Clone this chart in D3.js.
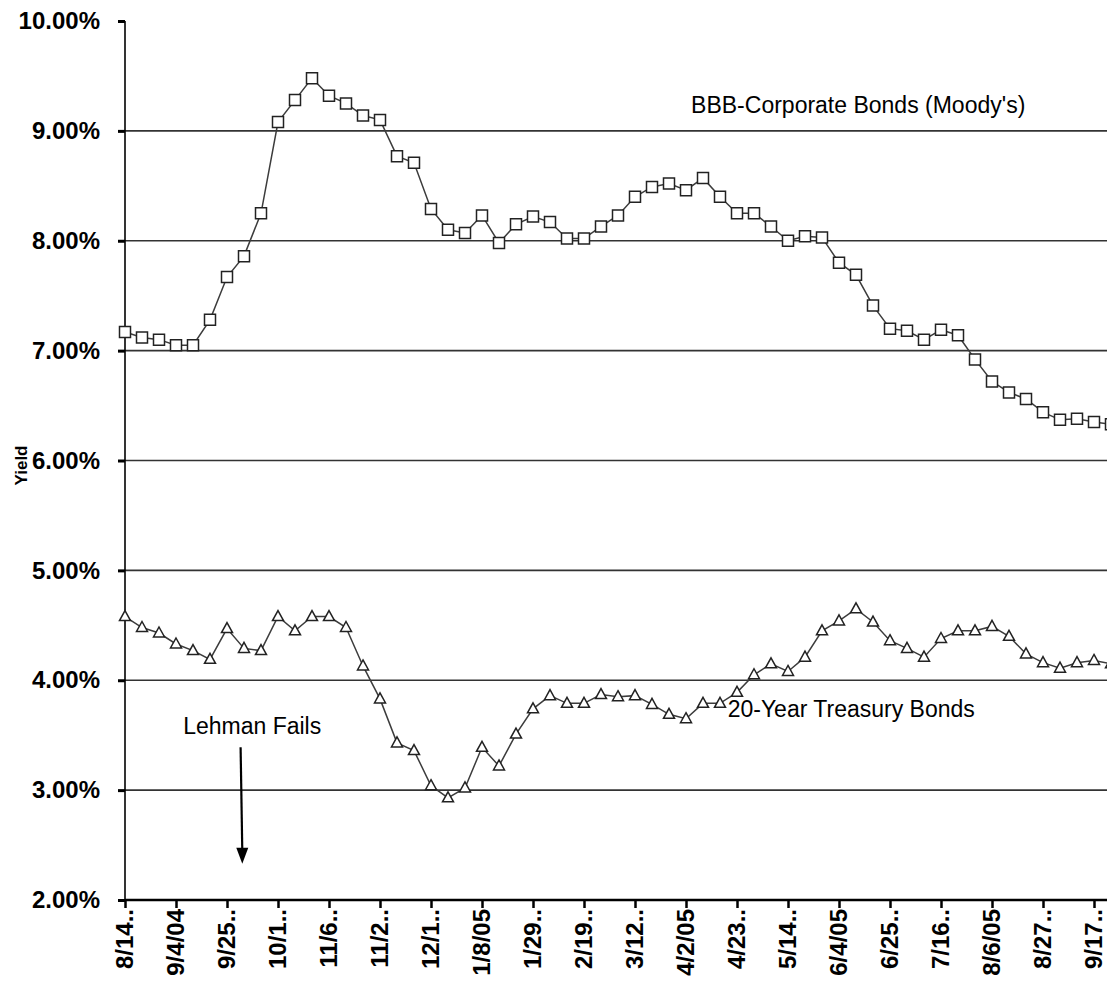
<!DOCTYPE html>
<html>
<head>
<meta charset="utf-8">
<script src="https://cdn.jsdelivr.net/npm/d3@7"></script>
<style>
  html, body { margin: 0; padding: 0; background: #fff; }
  svg { display: block; font-family: "Liberation Sans", Arial, sans-serif; }
</style>
</head>
<body>
<svg id="chart" width="1107" height="995"></svg>
<script>
// Weekly observation dates (Saturdays)
const weeks = [
  "8/14/04","8/21/04","8/28/04","9/4/04","9/11/04","9/18/04","9/25/04","10/2/04","10/9/04","10/16/04",
  "10/23/04","10/30/04","11/6/04","11/13/04","11/20/04","11/27/04","12/4/04","12/11/04","12/18/04","12/25/04",
  "1/1/05","1/8/05","1/15/05","1/22/05","1/29/05","2/5/05","2/12/05","2/19/05","2/26/05","3/5/05",
  "3/12/05","3/19/05","3/26/05","4/2/05","4/9/05","4/16/05","4/23/05","4/30/05","5/7/05","5/14/05",
  "5/21/05","5/28/05","6/4/05","6/11/05","6/18/05","6/25/05","7/2/05","7/9/05","7/16/05","7/23/05",
  "7/30/05","8/6/05","8/13/05","8/20/05","8/27/05","9/3/05","9/10/05","9/17/05","9/24/05"
];

// BBB corporate bond yields, Moody's (%)
const bbbYield = [
  7.17, 7.12, 7.10, 7.05, 7.05, 7.28, 7.67, 7.86, 8.25, 9.08,
  9.28, 9.48, 9.32, 9.25, 9.14, 9.10, 8.77, 8.71, 8.29, 8.10,
  8.07, 8.23, 7.98, 8.15, 8.22, 8.17, 8.02, 8.02, 8.13, 8.23,
  8.40, 8.49, 8.52, 8.46, 8.57, 8.40, 8.25, 8.25, 8.13, 8.00,
  8.04, 8.03, 7.80, 7.69, 7.41, 7.20, 7.18, 7.10, 7.19, 7.14,
  6.92, 6.72, 6.62, 6.56, 6.44, 6.37, 6.38, 6.35, 6.33
];

// 20-year Treasury bond yields (%)
const treasuryYield = [
  4.58, 4.48, 4.43, 4.33, 4.27, 4.19, 4.47, 4.29, 4.27, 4.58,
  4.45, 4.58, 4.58, 4.48, 4.13, 3.83, 3.43, 3.36, 3.04, 2.93,
  3.02, 3.39, 3.22, 3.51, 3.74, 3.86, 3.79, 3.79, 3.87, 3.85,
  3.86, 3.78, 3.69, 3.65, 3.79, 3.79, 3.89, 4.05, 4.15, 4.08,
  4.21, 4.45, 4.54, 4.65, 4.53, 4.36, 4.29, 4.21, 4.38, 4.45,
  4.45, 4.49, 4.40, 4.24, 4.16, 4.11, 4.16, 4.18, 4.15
];

// Category axis: a label every third week, shortened the way the axis shows them
const xTickIndex = [0, 3, 6, 9, 12, 15, 18, 21, 24, 27, 30, 33, 36, 39, 42, 45, 48, 51, 54, 57];
const xTickLabels = [
  "8/14..","9/4/04","9/25..","10/1..","11/6..","11/2..","12/1..","1/8/05","1/29..","2/19..",
  "3/12..","4/2/05","4/23..","5/14..","6/4/05","6/25..","7/16..","8/6/05","8/27..","9/17.."
];
const yTicks = [2, 3, 4, 5, 6, 7, 8, 9, 10];

const svg = d3.select("#chart");
const W = 1107, H = 995;
const plot = { left: 125, right: 1094, top: 21, bottom: 900 };

svg.append("rect").attr("width", W).attr("height", H).attr("fill", "#fff");

const x = d3.scaleLinear().domain([0, 57]).range([plot.left, plot.right]);
const y = d3.scaleLinear().domain([2, 10]).range([plot.bottom, plot.top]);

// Horizontal gridlines
svg.append("g").selectAll("line")
  .data(yTicks.filter(d => d > 2 && d < 10))
  .join("line")
  .attr("x1", plot.left).attr("x2", W)
  .attr("y1", d => y(d)).attr("y2", d => y(d))
  .attr("stroke", "#333").attr("stroke-width", 1.6);

// Y axis
const yAxis = d3.axisLeft(y)
  .tickValues(yTicks)
  .tickFormat(d => d3.format(".2f")(d) + "%")
  .tickSize(7)
  .tickPadding(18);
const gy = svg.append("g").attr("transform", `translate(${plot.left},0)`).call(yAxis);
gy.select(".domain").attr("stroke", "#000").attr("stroke-width", 1.6)
  .attr("d", `M0,${plot.top}V${plot.bottom}`);
gy.selectAll(".tick line").attr("stroke", "#000").attr("stroke-width", 3);
gy.selectAll(".tick text")
  .attr("font-family", "'Liberation Sans', Arial, sans-serif")
  .attr("font-size", 24).attr("font-weight", "bold").attr("fill", "#000");

// X axis (category positions every third week)
const xAxis = d3.axisBottom(x)
  .tickValues(xTickIndex)
  .tickFormat((d, i) => xTickLabels[i])
  .tickSize(8)
  .tickSizeOuter(0);
const gx = svg.append("g").attr("transform", `translate(0,${plot.bottom})`).call(xAxis);
gx.select(".domain").attr("stroke", "#000").attr("stroke-width", 2.5)
  .attr("d", `M${plot.left},0H${W}`);
gx.selectAll(".tick line").attr("stroke", "#000").attr("stroke-width", 2.5);
gx.selectAll(".tick text")
  .attr("font-family", "'Liberation Sans', Arial, sans-serif")
  .attr("font-size", 24).attr("font-weight", "bold").attr("fill", "#000")
  .attr("text-anchor", "end")
  .attr("transform", "rotate(-90)")
  .attr("x", -9).attr("y", -1).attr("dy", "0.36em");

// Axis title
svg.append("text")
  .attr("transform", `translate(27,${y(6) + 5}) rotate(-90)`)
  .attr("text-anchor", "middle")
  .attr("font-size", 17).attr("font-weight", "bold")
  .text("Yield");

// Series
const line = d3.line().x((d, i) => x(i)).y(d => y(d));

function drawSeries(values, markerPath) {
  svg.append("path")
    .datum(values)
    .attr("fill", "none")
    .attr("stroke", "#3c3c3c")
    .attr("stroke-width", 1.5)
    .attr("d", line);
  svg.append("g").selectAll("path")
    .data(values)
    .join("path")
    .attr("transform", (d, i) => `translate(${x(i)},${y(d)})`)
    .attr("d", markerPath)
    .attr("fill", "#fff")
    .attr("stroke", "#222")
    .attr("stroke-width", 1.5);
}

drawSeries(bbbYield, "M-5.5,-5.5H5.5V5.5H-5.5Z");
drawSeries(treasuryYield, "M0,-6L5.5,4H-5.5Z");

// Series labels
svg.append("text")
  .attr("x", x(33.3)).attr("y", y(9.165))
  .attr("font-size", 23).attr("fill", "#000")
  .text("BBB-Corporate Bonds (Moody's)");

svg.append("text")
  .attr("x", x(35.45)).attr("y", y(3.665))
  .attr("font-size", 23).attr("fill", "#000")
  .text("20-Year Treasury Bonds");

// Event marker
svg.append("text")
  .attr("x", x(3.42)).attr("y", y(3.51))
  .attr("font-size", 23).attr("fill", "#000")
  .text("Lehman Fails");

const ax0 = x(6.8), ay0 = y(3.39), ax1 = x(6.9), ay1 = y(2.33);
svg.append("line")
  .attr("x1", ax0).attr("y1", ay0).attr("x2", ax1).attr("y2", ay1 - 12)
  .attr("stroke", "#000").attr("stroke-width", 2.2);
svg.append("path")
  .attr("d", `M${ax1},${ay1}L${ax1 - 6},${ay1 - 16}L${ax1 + 6},${ay1 - 16}Z`)
  .attr("fill", "#000");
</script>
</body>
</html>
